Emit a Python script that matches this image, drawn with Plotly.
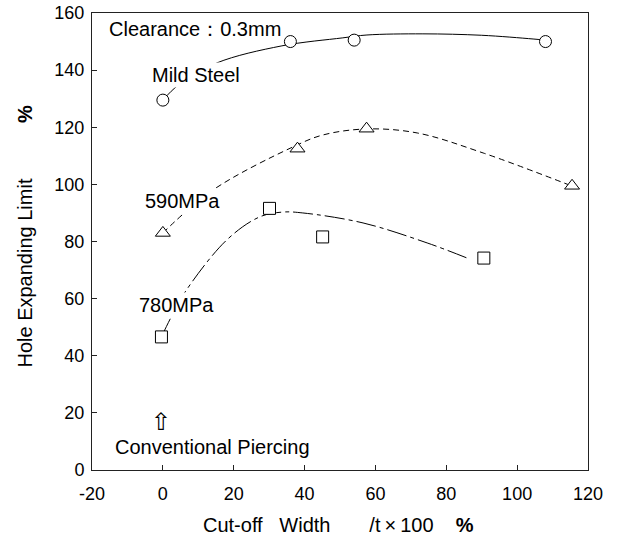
import plotly.graph_objects as go

# ---- data ----
mild_x = [0, 36, 54, 108]
mild_y = [129.5, 150, 150.5, 150]
mild_fit_x = [0, 4.4, 15.2, 33.6, 50.8, 57.6, 73.4, 90, 104.5, 108]
mild_fit_y = [129.5, 134.8, 142.5, 148.5, 151.3, 152.3, 152.7, 152.2, 150.9, 150.5]

mpa590_x = [0, 38, 57.5, 115.5]
mpa590_y = [83, 112.5, 119.5, 99.5]
mpa590_fit_x = [0, 14.1, 36.7, 45.2, 57.6, 71.8, 90.4, 115.5]
mpa590_fit_y = [83, 98, 113.1, 117.3, 119.4, 118, 111, 99.4]

mpa780_x = [-0.4, 30.1, 45.1, 90.6]
mpa780_y = [46.6, 91.6, 81.6, 74.2]
mpa780_fit_x = [-0.4, 2.2, 6.1, 18, 27.3, 33.8, 39.5, 56.5, 74.6, 85.9]
mpa780_fit_y = [46.6, 53.2, 62, 80.5, 88.6, 90.3, 90, 86.5, 79.5, 74.2]

x_ticks = [-20, 0, 20, 40, 60, 80, 100, 120]
x_tick_text = ["-20", "0", "20", "40", "60", "80", "100", "120"]
y_ticks = [0, 20, 40, 60, 80, 100, 120, 140, 160]

FONT = "Liberation Sans, Arial, sans-serif"
NB = "\u00a0"
TH = "\u2009"

fig = go.Figure()

# fitted curves
fig.add_trace(go.Scatter(x=mild_fit_x, y=mild_fit_y, mode="lines",
                         line=dict(color="black", width=1, shape="spline", smoothing=1.0),
                         showlegend=False, hoverinfo="skip"))
fig.add_trace(go.Scatter(x=mpa590_fit_x, y=mpa590_fit_y, mode="lines",
                         line=dict(color="black", width=1, dash="6px,4px", shape="spline", smoothing=1.0),
                         showlegend=False, hoverinfo="skip"))
fig.add_trace(go.Scatter(x=mpa780_fit_x, y=mpa780_fit_y, mode="lines",
                         line=dict(color="black", width=1, dash="20px,4px,4px,4px", shape="spline", smoothing=1.0),
                         showlegend=False, hoverinfo="skip"))

# markers
fig.add_trace(go.Scatter(x=mild_x, y=mild_y, mode="markers", name="Mild Steel",
                         marker=dict(symbol="circle", size=12, color="white",
                                     line=dict(color="black", width=1)),
                         showlegend=False))
fig.add_trace(go.Scatter(x=mpa590_x, y=mpa590_y, mode="markers", name="590MPa",
                         marker=dict(symbol="triangle-up", size=13, color="white",
                                     line=dict(color="black", width=1)),
                         showlegend=False))
fig.add_trace(go.Scatter(x=mpa780_x, y=mpa780_y, mode="markers", name="780MPa",
                         marker=dict(symbol="square", size=12, color="white",
                                     line=dict(color="black", width=1)),
                         showlegend=False))

ann_font = dict(family=FONT, size=20, color="black")
annotations = [
    dict(x=-15.9, y=154.4, xref="x", yref="y", text="Clearance：0.3mm", showarrow=False,
         xanchor="left", yanchor="middle", font=ann_font),
    dict(x=9.3, y=138.3, xref="x", yref="y", text="Mild Steel", showarrow=False,
         xanchor="center", yanchor="middle", font=ann_font, bgcolor="white", borderpad=1),
    dict(x=5.6, y=94.2, xref="x", yref="y", text="590MPa", showarrow=False,
         xanchor="center", yanchor="middle", font=ann_font, bgcolor="white", borderpad=1),
    dict(x=3.9, y=57.8, xref="x", yref="y", text="780MPa", showarrow=False,
         xanchor="center", yanchor="middle", font=ann_font, bgcolor="white", borderpad=1),
    dict(x=14.1, y=8.05, xref="x", yref="y", text="Conventional Piercing", showarrow=False,
         xanchor="center", yanchor="middle", font=ann_font),
    dict(x=-0.4, y=16.8, xref="x", yref="y", text="⇧", showarrow=False,
         xanchor="center", yanchor="middle", font=dict(family="DejaVu Sans", size=24, color="black")),
    # axis titles
    dict(x=0.4975, y=-0.120, xref="paper", yref="paper",
         text="Cut-off" + NB * 3 + "Width" + NB * 7 + "/t" + TH + "×" + TH + "100" + NB * 4 + "<b>%</b>",
         showarrow=False, xanchor="center", yanchor="middle", font=ann_font),
    dict(x=-0.136, y=0.512, xref="paper", yref="paper",
         text="Hole Expanding Limit" + NB * 10 + "<b>%</b>", textangle=-90,
         showarrow=False, xanchor="center", yanchor="middle", font=ann_font),
]

axis_common = dict(showline=True, linecolor="#222", linewidth=1, mirror=True,
                   ticks="inside", ticklen=5, tickcolor="#222", tickwidth=1,
                   showgrid=False, zeroline=False, automargin=False,
                   ticklabeloverflow="allow",
                   tickfont=dict(family=FONT, size=18, color="black"))

fig.update_layout(
    width=620, height=537,
    margin=dict(l=92, r=32, t=13, b=67, autoexpand=False),
    paper_bgcolor="white", plot_bgcolor="white",
    xaxis=dict(range=[-20, 120], tickvals=x_ticks, ticktext=x_tick_text,
               ticklabelstandoff=7, **axis_common),
    yaxis=dict(range=[0, 160], tickvals=y_ticks, ticklabelstandoff=3, **axis_common),
    annotations=annotations,
    showlegend=False,
)

# remove the default 8px page margin so the 620x537 figure fills the window exactly
fig.write_html("out.html", config={"displayModeBar": False},
               post_script="document.body.style.margin='0';")
